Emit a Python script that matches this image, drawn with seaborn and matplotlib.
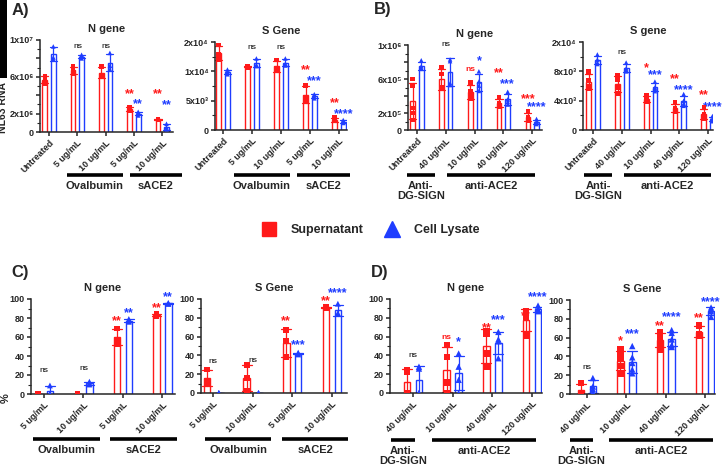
import numpy as np
import pandas as pd
import matplotlib
matplotlib.use('Agg')
import matplotlib.pyplot as plt
import matplotlib.transforms as mtransforms
from matplotlib.lines import Line2D
from matplotlib.patches import Rectangle
from matplotlib.ticker import FixedLocator, MultipleLocator
import seaborn as sns

RED = '#ff1a1a'
BLUE = '#1f3dff'

# ---- tick labels ----
labels_a = ['Untreated', '5 ug/mL', '10 ug/mL', '5 ug/mL', '10 ug/mL']
labels_b = ['Untreated', '40 ug/mL', '10 ug/mL', '40 ug/mL', '120 ug/mL']
labels_c = ['5 ug/mL', '10 ug/mL', '5 ug/mL', '10 ug/mL']
labels_d = ['40 ug/mL', '10 ug/mL', '40 ug/mL', '120 ug/mL']

# ---- replicate values ----
# A) N gene (copies)
a_n_sup = [[6.1e6, 5.7e6, 5.3e6], [7.1e6, 6.7e6, 6.3e6], [7.1e6, 6.2e6, 6.0e6], [2.7e6, 2.5e6, 2.3e6], [1.4e6, 1.4e6, 1.3e6]]
a_n_lys = [[9.3e6, 8.1e6, 7.9e6], [8.4e6, 8.2e6, 8.0e6], [8.6e6, 7.2e6, 6.8e6], [2.2e6, 2.0e6, 1.8e6], [0.9e6, 0.5e6, 0.3e6]]
# A) S gene
a_s_sup = [[14500, 12900, 12000], [10900, 10800, 10700], [11900, 10500, 10100], [7600, 5600, 4900], [2100, 1600, 1500]]
a_s_lys = [[10300, 9900, 9500], [12200, 11100, 10900], [12200, 11300, 11000], [6100, 5700, 5400], [1700, 1300, 1200]]
# B) N gene
b_n_sup = [[6.0e5, 5.2e5, 2.6e5, 2.0e5, 1.2e5], [7.4e5, 6.6e5, 5.0e5, 4.8e5], [5.6e5, 4.5e5, 4.0e5, 3.7e5],
           [3.8e5, 3.2e5, 2.9e5, 2.7e5], [2.2e5, 1.5e5, 1.3e5, 1.1e5]]
b_n_lys = [[8.2e5, 7.5e5, 7.3e5, 7.2e5], [8.3e5, 8.1e5, 5.5e5, 5.3e5], [6.9e5, 5.7e5, 5.2e5, 4.6e5],
           [4.5e5, 3.6e5, 3.3e5, 3.0e5], [1.3e5, 1.0e5, 0.9e5, 0.7e5]]
# B) S gene
b_s_sup = [[8000, 6800, 6000, 5600], [7400, 6800, 5800, 5000], [4800, 4200, 4000, 3900], [3800, 3000, 2700, 2500], [3100, 2200, 1800, 1600]]
b_s_lys = [[10300, 9600, 9200, 9000], [9200, 8400, 8200, 8000], [6600, 5800, 5600, 5300], [4900, 4000, 3600, 3300], [1900, 1500, 1300, 1200]]
# C) % inhibition
c_n_sup = [[0, 0, 0], [0, 0, 0], [69, 57, 53], [84, 83, 82]]
c_n_lys = [[9, 0, 0], [13, 11, 10], [79, 77, 76], [96, 95, 95]]
c_s_sup = [[25, 13, 9], [30, 16, 2], [67, 55, 38], [92, 91, 90]]
c_s_lys = [[0, 0, 0], [0, 0, 0], [43, 42, 41], [95, 85, 84]]
# D) % inhibition
d_n_sup = [[24, 23, 0, 0], [51, 38, 11, 0], [66, 63, 42, 28], [87, 84, 80, 61]]
d_n_lys = [[28, 26, 0, 0], [42, 28, 14, 0], [65, 57, 55, 37], [93, 89, 88, 87]]
d_s_sup = [[12, 0, 0], [48, 41, 37, 30, 22], [66, 62, 57, 53, 47], [73, 64, 62]]
d_s_lys = [[17, 8, 5, 2], [51, 39, 33, 26, 22], [68, 65, 58, 52, 50], [92, 90, 88, 82]]

# ---- significance marks: (category, bar, text, height) ----
sig_a_n = [(1, 'pair', 'ns', 9.3e6), (2, 'pair', 'ns', 9.3e6), (3, 'sup', '**', 4.5e6), (3, 'lys', '**', 3.4e6),
           (4, 'sup', '**', 4.5e6), (4, 'lys', '**', 3.3e6)]
sig_a_s = [(1, 'pair', 'ns', 14100), (2, 'pair', 'ns', 14100), (3, 'sup', '**', 10800), (3, 'lys', '***', 9000),
           (4, 'sup', '**', 5200), (4, 'lys', '****', 3400)]
sig_b_n = [(1, 'pair', 'ns', 10.1e5), (2, 'sup', 'ns', 7.1e5), (2, 'lys', '*', 8.6e5), (3, 'sup', '**', 7.1e5),
           (3, 'lys', '***', 5.8e5), (4, 'sup', '***', 4.1e5), (4, 'lys', '****', 3.1e5)]
sig_b_s = [(1, 'pair', 'ns', 10500), (2, 'sup', '*', 8900), (2, 'lys', '***', 8000), (3, 'sup', '**', 7400),
           (3, 'lys', '****', 6000), (4, 'sup', '**', 5300), (4, 'lys', '****', 3700)]
sig_c_n = [(0, 'pair', 'ns', 25), (1, 'pair', 'ns', 27), (2, 'sup', '**', 81), (2, 'lys', '**', 89),
           (3, 'sup', '**', 94), (3, 'lys', '**', 106)]
sig_c_s = [(0, 'pair', 'ns', 33.5), (1, 'pair', 'ns', 35), (2, 'sup', '**', 81), (2, 'lys', '***', 55.5),
           (3, 'sup', '**', 102), (3, 'lys', '****', 110)]
sig_d_n = [(0, 'pair', 'ns', 40), (1, 'sup', 'ns', 59), (1, 'lys', '*', 58.5), (2, 'sup', '**', 73),
           (2, 'lys', '***', 81.5), (3, 'sup', '**', 86), (3, 'lys', '****', 106)]
sig_d_s = [(0, 'pair', 'ns', 28), (1, 'sup', '*', 60), (1, 'lys', '***', 68), (2, 'sup', '**', 76),
           (2, 'lys', '****', 86), (3, 'sup', '**', 85), (3, 'lys', '****', 102)]

sns.set_style('ticks')
plt.rcParams['font.family'] = ['Liberation Sans', 'DejaVu Sans']
plt.rcParams['font.weight'] = 'bold'
plt.rcParams['axes.linewidth'] = 1.1

W, H = 725, 470
fig = plt.figure(figsize=(7.25, 4.7), dpi=100)


def px_axes(left, top, right, bottom):
    return fig.add_axes([left / W, 1 - bottom / H, (right - left) / W, (bottom - top) / H])


hue_order = ['Supernatant', 'Cell Lysate']
palette = {'Supernatant': RED, 'Cell Lysate': BLUE}
markers = {'Supernatant': 's', 'Cell Lysate': '^'}
BAR_W = 0.6
# centre of each hue slot inside a category (same rule seaborn uses for dodge)
slot_off = {'Supernatant': -BAR_W / 4, 'Cell Lysate': BAR_W / 4}


def panel(ax, labels, sup, lys, sig, title, xlim, ylim, ticks, ticklabels, minor, msize):
    rows = []
    for i, (s, l) in enumerate(zip(sup, lys)):
        rows += [(i, 'Supernatant', v) for v in s]
        rows += [(i, 'Cell Lysate', v) for v in l]
    df = pd.DataFrame(rows, columns=['cat', 'type', 'value'])
    df['pos'] = df['cat'] + df['type'].map(slot_off)
    order = list(range(len(labels)))
    for t, col in [('Supernatant', RED), ('Cell Lysate', BLUE)]:
        sub = df[df['type'] == t]
        sns.barplot(data=sub, x='cat', y='value', hue='type', hue_order=hue_order, order=order,
                    palette=palette, fill=False, errorbar='sd', capsize=0.5, width=BAR_W, gap=0.45,
                    dodge=True, linewidth=1.0, err_kws={'color': col, 'linewidth': 0.9},
                    legend=False, ax=ax)
    sns.scatterplot(data=df, x='pos', y='value', hue='type', style='type', hue_order=hue_order,
                    style_order=hue_order, palette=palette, markers=markers, s=msize ** 2,
                    linewidth=0, legend=False, ax=ax, zorder=4)
    ax.set_xlim(*xlim)
    ax.set_ylim(*ylim)
    ax.set_xticks(order)
    ax.set_xticklabels(labels, rotation=45, ha='right', rotation_mode='anchor',
                       fontsize=6.5, fontweight='bold')
    ax.yaxis.set_major_locator(FixedLocator(ticks))
    ax.set_yticklabels(ticklabels, fontsize=6.5, fontweight='bold')
    ax.yaxis.set_minor_locator(MultipleLocator(minor))
    ax.tick_params(axis='both', which='major', length=3, width=1.1, pad=1.5)
    ax.tick_params(axis='y', which='minor', length=2, width=0.8)
    ax.set_xlabel('')
    ax.set_ylabel('')
    ax.set_title(title, fontsize=8, fontweight='bold', pad=6)
    sns.despine(ax=ax)
    offs = {'pair': 0.0, 'sup': slot_off['Supernatant'], 'lys': slot_off['Cell Lysate']}
    cols = {'pair': 'black', 'sup': RED, 'lys': BLUE}
    for cat, who, txt, y in sig:
        if txt == 'ns':
            ax.annotate(txt, (cat + offs[who], y), xytext=(0, 0), textcoords='offset points',
                        ha='center', va='center', fontsize=6,
                        fontweight='normal' if who == 'pair' else 'bold',
                        color=cols[who], annotation_clip=False)
        else:
            ax.annotate(txt, (cat + offs[who], y), xytext=(0, -2.8), textcoords='offset points',
                        ha='center', va='center', fontsize=9, fontweight='bold',
                        color=cols[who], annotation_clip=False)


def groups(ax, spans, y_line):
    tr = mtransforms.blended_transform_factory(ax.transData, fig.transFigure)
    for name, x0, x1 in spans:
        ax.add_line(Line2D([x0, x1], [1 - y_line / H] * 2, transform=tr, color='black',
                           linewidth=2.6, clip_on=False, solid_capstyle='butt'))
        ax.text((x0 + x1) / 2, 1 - (y_line + 6) / H, name, transform=tr, ha='center', va='top',
                fontsize=8, fontweight='bold', linespacing=1.0)


# A) N gene
ax = px_axes(40, 40, 173, 132)
panel(ax, labels_a, a_n_sup, a_n_lys, sig_a_n, 'N gene', (-0.32, 4.38), (0, 1e7),
      [0, 2e6, 4e6, 6e6, 8e6, 1e7], ['0', '2x10⁶', '', '6x10⁶', '', '1x10⁷'], 1e6, 3.3)
groups(ax, [('Ovalbumin', 0.62, 2.6), ('sACE2', 2.86, 4.7)], 175)

# A) S gene
ax = px_axes(215, 42, 347, 130)
panel(ax, labels_a, a_s_sup, a_s_lys, sig_a_s, 'S Gene', (-0.28, 4.28), (0, 15000),
      [0, 5000, 10000, 15000], ['0', '5x10³', '1x10⁴', '2x10⁴'], 2500, 3.3)
groups(ax, [('Ovalbumin', 0.36, 2.3), ('sACE2', 2.54, 4.37)], 175)

# B) N gene
ax = px_axes(408, 45, 542, 130)
panel(ax, labels_b, b_n_sup, b_n_lys, sig_b_n, 'N gene', (-0.31, 4.34), (0, 1e6),
      [0, 2e5, 4e5, 6e5, 8e5, 1e6], ['0', '2x10⁵', '', '6x10⁵', '', '1x10⁶'], 1e5, 3.3)
groups(ax, [('Anti-\nDG-SIGN', -0.35, 0.63), ('anti-ACE2', 1.06, 4.1)], 175)

# B) S gene
ax = px_axes(583, 42, 713, 130)
panel(ax, labels_b, b_s_sup, b_s_lys, sig_b_s, 'S gene', (-0.35, 4.17), (0, 12000),
      [0, 4000, 8000, 12000], ['0', '4x10³', '8x10³', '2x10⁴'], 2000, 3.3)
groups(ax, [('Anti-\nDG-SIGN', -0.31, 0.67), ('anti-ACE2', 1.07, 4.1)], 175)

pct_ticks = [0, 20, 40, 60, 80, 100]
pct_labels = [str(t) for t in pct_ticks]

# C) N gene
ax = px_axes(31, 299, 175, 394)
panel(ax, labels_c, c_n_sup, c_n_lys, sig_c_n, 'N gene', (-0.33, 3.32), (0, 100),
      pct_ticks, pct_labels, 10, 4.2)
groups(ax, [('Ovalbumin', -0.28, 1.41), ('sACE2', 1.67, 3.36)], 439)

# C) S gene
ax = px_axes(201, 299, 347, 393)
panel(ax, labels_c, c_s_sup, c_s_lys, sig_c_s, 'S Gene', (-0.3, 3.38), (0, 100),
      pct_ticks, pct_labels, 10, 4.2)
groups(ax, [('Ovalbumin', -0.19, 1.47), ('sACE2', 1.75, 3.41)], 439)

# D) N gene
ax = px_axes(390, 299, 542, 393)
panel(ax, labels_d, d_n_sup, d_n_lys, sig_d_n, 'N gene', (-0.58, 3.25), (0, 100),
      pct_ticks, pct_labels, 10, 4.6)
groups(ax, [('Anti-\nDG-SIGN', -0.55, 0.04), ('anti-ACE2', 0.49, 3.09)], 440)

# D) S gene
ax = px_axes(570, 300, 715, 394)
panel(ax, labels_d, d_s_sup, d_s_lys, sig_d_s, 'S Gene', (-0.43, 3.25), (0, 100),
      pct_ticks, pct_labels, 10, 4.6)
groups(ax, [('Anti-\nDG-SIGN', -0.43, 0.16), ('anti-ACE2', 0.57, 3.2)], 440)

# panel letters
for txt, x, y in [('A)', 12, 3), ('B)', 374, 2), ('C)', 11, 265), ('D)', 371, 265)]:
    fig.text(x / W, 1 - y / H, txt, fontsize=12, fontweight='bold', va='top', ha='left')

# y labels (the reference has this one partly hidden at the left edge)
fig.text(3 / W, 1 - 133 / H, 'NL63 RNA', rotation=90, ha='center', va='bottom',
         fontsize=7.5, fontweight='bold')
fig.patches.append(Rectangle((0, 1 - 78 / H), 7 / W, 78 / H, transform=fig.transFigure,
                             facecolor='black', edgecolor='none', zorder=10))
fig.text(6 / W, 1 - 398 / H, '%', rotation=90, ha='center', va='center',
         fontsize=8, fontweight='bold')

# legend
handles = [Line2D([], [], marker='s', color=RED, ls='', ms=10),
           Line2D([], [], marker='^', color=BLUE, ls='', ms=11)]
fig.legend(handles, ['Supernatant', 'Cell Lysate'], loc='center', bbox_to_anchor=(368 / W, 1 - 230 / H),
           ncol=2, frameon=False, prop={'size': 9, 'weight': 'bold'}, columnspacing=1.3,
           handletextpad=0.7)

fig.savefig('out.png', dpi=100)
